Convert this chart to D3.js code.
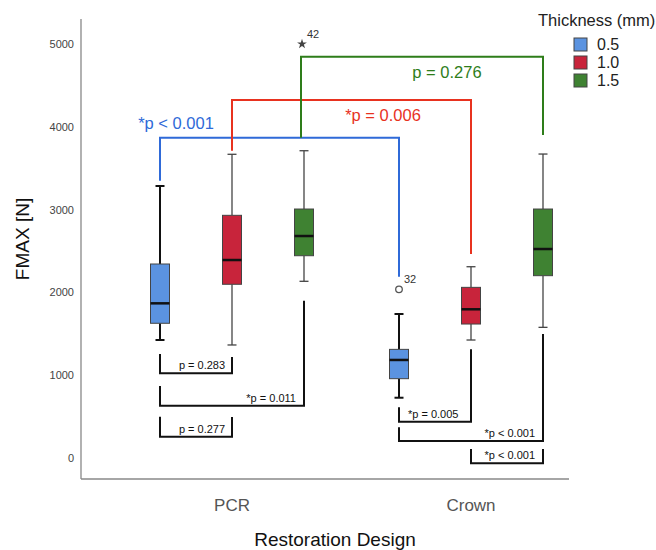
<html>
<head>
  <script src="https://d3js.org/d3.v7.min.js"></script>
  <style>
    body { margin: 0; background: #fff; }
    text { font-family: "Liberation Sans", Arial, sans-serif; }
  </style>
</head>
<body>
  <svg id="chart" width="656" height="550"></svg>
  <script>
    // data
    const designs = ["PCR", "Crown"];
    const thicknesses = ["0.5", "1.0", "1.5"];
    const colors = ["#5b93e0", "#c8243b", "#3f8232"];
    const lineColors = ["#2f6ad8", "#e8321f", "#2e7d1a"];
    const yTicks = [0, 1000, 2000, 3000, 4000, 5000];

    // [design, thickness, whiskerLow, q1, median, q3, whiskerHigh]
    const boxes = [
      ["PCR", "0.5", 1425, 1627, 1868, 2343, 3285],
      ["PCR", "1.0", 1365, 2098, 2391, 2931, 3668],
      ["PCR", "1.5", 2134, 2443, 2681, 3007, 3711],
      ["Crown", "0.5", 728, 958, 1184, 1312, 1739],
      ["Crown", "1.0", 1425, 1618, 1796, 2061, 2310],
      ["Crown", "1.5", 1578, 2202, 2524, 3007, 3671]
    ];

    // outliers: design, thickness, value, case id, symbol
    const outliers = [
      ["PCR", "1.5", 5000, "42", "star"],
      ["Crown", "0.5", 2037, "32", "circle"]
    ];

    // colored brackets comparing design per thickness: leftStart, top, rightEnd
    const topBrackets = [
      ["0.5", 3349, 3868, 2190, "*p < 0.001"],
      ["1.0", 3711, 4324, 2464, "*p = 0.006"],
      ["1.5", 3868, 4847, 3901, "p = 0.276"]
    ];

    // black brackets within a design: design, from, to, leftTop, base, rightTop, label
    const lowBrackets = [
      ["PCR", "0.5", "1.0", 1256, 1023, 1220, "p = 0.283"],
      ["PCR", "0.5", "1.5", 870, 632, 1900, "*p = 0.011"],
      ["PCR", "0.5", "1.0", 499, 257, 495, "p = 0.277"],
      ["Crown", "0.5", "1.0", 612, 438, 1313, "*p = 0.005"],
      ["Crown", "0.5", "1.5", 371, 205, 1498, "*p < 0.001"],
      ["Crown", "1.0", "1.5", 109, -64, 109, "*p < 0.001"]
    ];

    const svg = d3.select("#chart");

    const x = d3.scalePoint().domain(designs).range([232, 471]);
    const sub = d3.scalePoint().domain(thicknesses).range([-72, 72]);
    const y = d3.scaleLinear().domain([0, 5000]).range([458, 44]);
    const color = d3.scaleOrdinal().domain(thicknesses).range(colors);
    const lineColor = d3.scaleOrdinal().domain(thicknesses).range(lineColors);
    const cx = (d, t) => x(d) + sub(t);

    // axes
    svg.append("line").attr("x1", 81).attr("x2", 81).attr("y1", 19).attr("y2", 479)
      .attr("stroke", "#888").attr("stroke-width", 1.3);
    svg.append("line").attr("x1", 81).attr("x2", 569).attr("y1", 479).attr("y2", 479)
      .attr("stroke", "#888").attr("stroke-width", 1.3);

    yTicks.forEach(t => {
      svg.append("text")
        .attr("x", 74).attr("y", y(t) + 4)
        .attr("text-anchor", "end")
        .attr("font-size", 11).attr("fill", "#444")
        .text(t);
    });

    designs.forEach(d => {
      svg.append("text")
        .attr("x", x(d)).attr("y", 511)
        .attr("text-anchor", "middle")
        .attr("font-size", 17).attr("fill", "#555")
        .text(d);
    });

    svg.append("text")
      .attr("x", 335).attr("y", 546)
      .attr("text-anchor", "middle")
      .attr("font-size", 19).attr("fill", "#111")
      .text("Restoration Design");

    svg.append("text")
      .attr("transform", "translate(29,239) rotate(-90)")
      .attr("text-anchor", "middle")
      .attr("font-size", 19).attr("fill", "#111")
      .text("FMAX [N]");

    // boxes
    boxes.forEach(b => {
      const [d, t, lo, q1, med, q3, hi] = b;
      const c = cx(d, t);
      const thick = t === "0.5";
      const wc = thick ? "#111" : "#444";
      const ww = thick ? 2 : 1.3;
      svg.append("line").attr("x1", c).attr("x2", c).attr("y1", y(hi)).attr("y2", y(q3))
        .attr("stroke", wc).attr("stroke-width", ww);
      svg.append("line").attr("x1", c).attr("x2", c).attr("y1", y(q1)).attr("y2", y(lo))
        .attr("stroke", wc).attr("stroke-width", ww);
      [hi, lo].forEach(v => {
        svg.append("line").attr("x1", c - 4.5).attr("x2", c + 4.5).attr("y1", y(v)).attr("y2", y(v))
          .attr("stroke", wc).attr("stroke-width", ww);
      });
      svg.append("rect")
        .attr("x", c - 9.5).attr("width", 19)
        .attr("y", y(q3)).attr("height", y(q1) - y(q3))
        .attr("fill", color(t)).attr("stroke", "#444").attr("stroke-width", 1);
      svg.append("line").attr("x1", c - 9.5).attr("x2", c + 9.5).attr("y1", y(med)).attr("y2", y(med))
        .attr("stroke", "#111").attr("stroke-width", 2.5);
    });

    // outliers
    outliers.forEach(o => {
      const [d, t, v, id, sym] = o;
      const c = cx(d, t);
      if (sym === "star") {
        svg.append("path")
          .attr("d", d3.symbol(d3.symbolStar, 30)())
          .attr("transform", `translate(${c - 2},${y(v)})`)
          .attr("fill", "#444");
        svg.append("text").attr("x", c + 3).attr("y", y(v) - 6)
          .attr("font-size", 11).attr("fill", "#333").text(id);
      } else {
        svg.append("circle").attr("cx", c).attr("cy", y(v)).attr("r", 3.3)
          .attr("fill", "none").attr("stroke", "#555").attr("stroke-width", 1.3);
        svg.append("text").attr("x", c + 5).attr("y", y(v) - 6)
          .attr("font-size", 11).attr("fill", "#333").text(id);
      }
    });

    // colored brackets, PCR vs Crown per thickness
    const topLabelX = { "0.5": 176, "1.0": 383, "1.5": 447 };
    topBrackets.forEach(b => {
      const [t, l, top, r, label] = b;
      const x1 = cx("PCR", t) - (t === "1.5" ? 3 : 0);
      const x2 = cx("Crown", t);
      svg.append("path")
        .attr("d", `M${x1},${y(l)}V${y(top)}H${x2}V${y(r)}`)
        .attr("fill", "none").attr("stroke", lineColor(t)).attr("stroke-width", 2);
      // blue label sits above its line, the others below
      const ty = t === "0.5" ? y(top) - 9 : y(top) + 21;
      svg.append("text")
        .attr("x", topLabelX[t]).attr("y", ty)
        .attr("text-anchor", "middle")
        .attr("font-size", 16.5).attr("fill", lineColor(t))
        .text(label);
    });

    // black brackets within a design
    lowBrackets.forEach(b => {
      const [d, a, z, l, base, r, label] = b;
      const x1 = cx(d, a), x2 = cx(d, z);
      svg.append("path")
        .attr("d", `M${x1},${y(l)}V${y(base)}H${x2}V${y(r)}`)
        .attr("fill", "none").attr("stroke", "#111").attr("stroke-width", 2);
      const wide = (a === "0.5" && z === "1.5");
      const centred = !label.startsWith("*");
      let tx, anchor;
      if (centred) { tx = (x1 + x2) / 2 + 6; anchor = "middle"; }
      else if (wide || (d === "Crown" && a === "1.0")) { tx = x2 - 8; anchor = "end"; }
      else { tx = x1 + 9; anchor = "start"; }
      svg.append("text")
        .attr("x", tx).attr("y", y(base) - 4)
        .attr("text-anchor", anchor)
        .attr("font-size", 11).attr("fill", "#111")
        .text(label);
    });

    // legend
    svg.append("text").attr("x", 538).attr("y", 26)
      .attr("font-size", 16.5).attr("fill", "#222").text("Thickness (mm)");
    thicknesses.forEach((t, i) => {
      svg.append("rect").attr("x", 574).attr("y", 38 + i * 18).attr("width", 13).attr("height", 13)
        .attr("fill", color(t)).attr("stroke", "#444").attr("stroke-width", 1);
      svg.append("text").attr("x", 597).attr("y", 50 + i * 18)
        .attr("font-size", 16).attr("fill", "#222").text(t);
    });
  </script>
</body>
</html>
